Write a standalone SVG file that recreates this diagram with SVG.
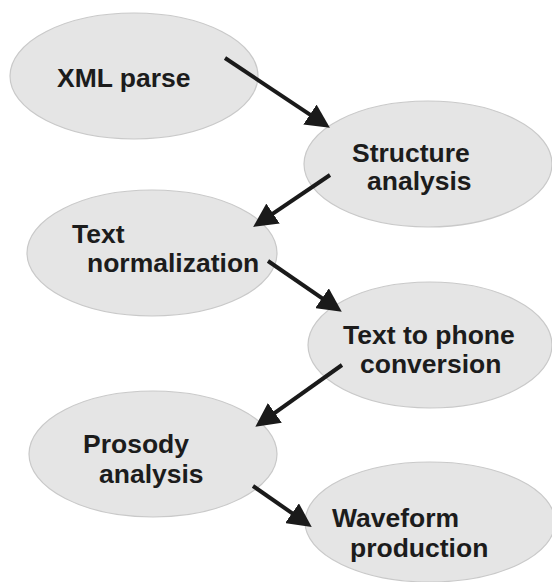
<svg xmlns="http://www.w3.org/2000/svg" width="552" height="582" viewBox="0 0 552 582">
  <style>
    .node ellipse { fill: #e5e5e5; stroke: #c9c9c9; stroke-width: 1.2; }
    .node text { font-family: "Liberation Sans", Arial, sans-serif; font-weight: bold; font-size: 26.5px; fill: #1c1c1c; }
    .edge { stroke: #1a1a1a; stroke-width: 4; fill: none; marker-end: url(#arrow); }
  </style>
  <defs>
    <marker id="arrow" viewBox="0 0 22 22" markerUnits="userSpaceOnUse" markerWidth="24" markerHeight="24" refX="10" refY="11" orient="auto">
      <path d="M0,0 L22,11 L0,22 z" fill="#1a1a1a"/>
    </marker>
  </defs>
  <rect width="552" height="582" fill="#ffffff"/>

  <g id="xml-parse" class="node">
    <ellipse cx="134" cy="76" rx="124" ry="63"/>
    <text x="57" y="87">XML parse</text>
  </g>
  <g id="structure-analysis" class="node">
    <ellipse cx="428" cy="164" rx="124" ry="63"/>
    <text x="352" y="162">Structure</text>
    <text x="367" y="190">analysis</text>
  </g>
  <g id="text-normalization" class="node">
    <ellipse cx="152" cy="253" rx="125" ry="63"/>
    <text x="72" y="243">Text</text>
    <text x="87" y="272">normalization</text>
  </g>
  <g id="text-to-phone" class="node">
    <ellipse cx="430" cy="345" rx="122" ry="63"/>
    <text x="343" y="344">Text to phone</text>
    <text x="360" y="373">conversion</text>
  </g>
  <g id="prosody-analysis" class="node">
    <ellipse cx="153" cy="454" rx="124" ry="63"/>
    <text x="83" y="453">Prosody</text>
    <text x="99" y="483">analysis</text>
  </g>
  <g id="waveform-production" class="node">
    <ellipse cx="430" cy="522" rx="125" ry="60"/>
    <text x="332" y="527">Waveform</text>
    <text x="350" y="557">production</text>
  </g>

  <g id="connectors">
    <line class="edge" x1="225" y1="58" x2="319" y2="120.6"/>
    <line class="edge" x1="330" y1="175" x2="264" y2="219.6"/>
    <line class="edge" x1="268" y1="261" x2="331" y2="304.4"/>
    <line class="edge" x1="342" y1="365" x2="266" y2="419.2"/>
    <line class="edge" x1="253" y1="486" x2="301" y2="519.4"/>
  </g>
</svg>
